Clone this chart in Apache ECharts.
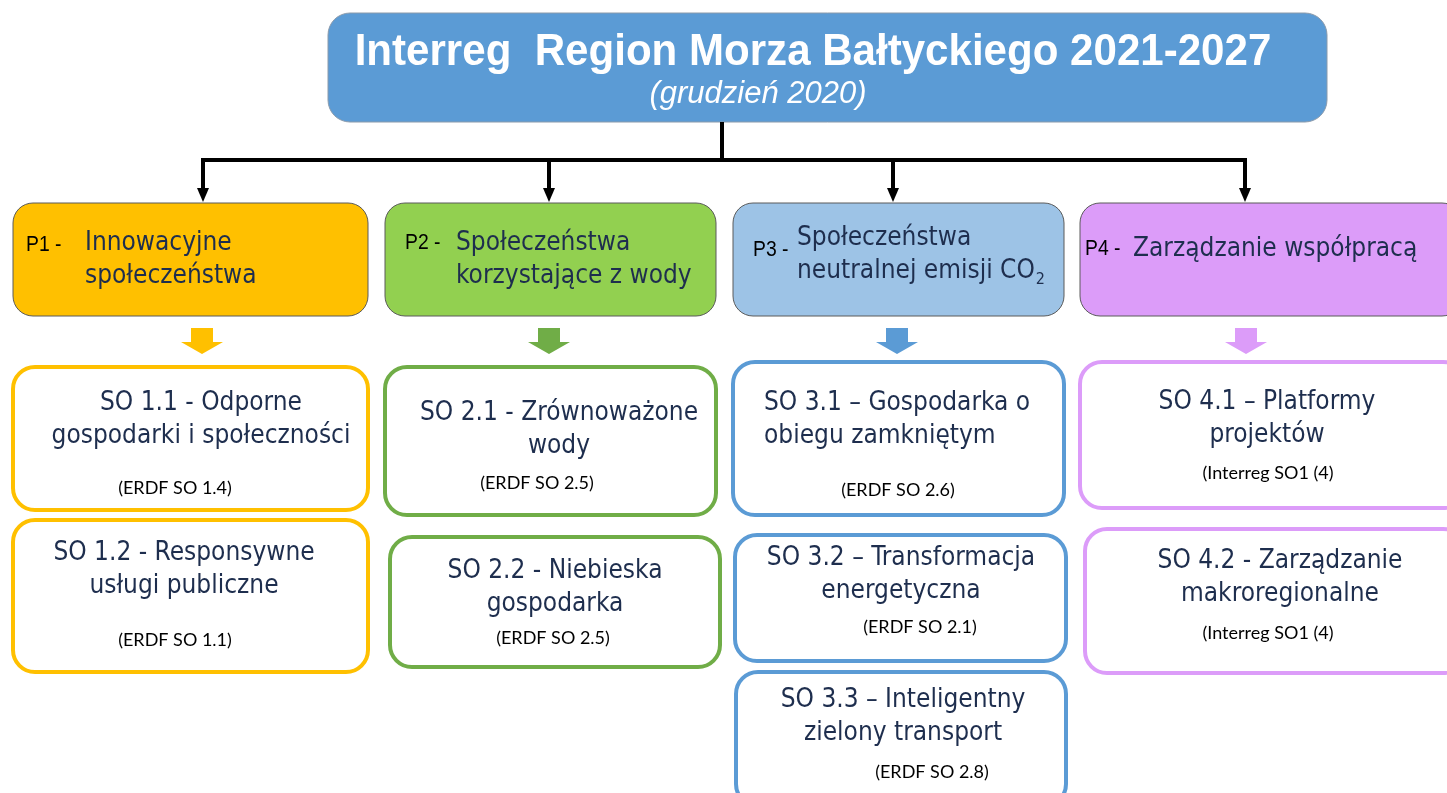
<!DOCTYPE html>
<html>
<head>
<meta charset="utf-8">
<title>Interreg Region Morza Bałtyckiego 2021-2027</title>
<script src="https://cdn.jsdelivr.net/npm/echarts@6.0.0/dist/echarts.min.js"></script>
<style>
  html, body { margin: 0; padding: 0; background: #fff; }
  #chart { width: 1447px; height: 793px; }
</style>
</head>
<body>
<div id="chart"></div>
<script>
// --- data (texts only) ---
const headerTitle = 'Interreg  Region Morza Bałtyckiego 2021-2027'
const headerSubtitle = '(grudzień 2020)'

const priorityCodes = ['P1 -', 'P2 -', 'P3 -', 'P4 -']
const priorityNames = [
  'Innowacyjne\nspołeczeństwa',
  'Społeczeństwa\nkorzystające z wody',
  'Społeczeństwa\nneutralnej emisji CO{sub|2}',
  'Zarządzanie współpracą',
]

const objectiveNames = [
  'SO 1.1 - Odporne\ngospodarki i społeczności',
  'SO 1.2 - Responsywne\nusługi publiczne',
  'SO 2.1 - Zrównoważone\nwody',
  'SO 2.2 - Niebieska\ngospodarka',
  'SO 3.1 – Gospodarka o\nobiegu zamkniętym',
  'SO 3.2 – Transformacja\nenergetyczna',
  'SO 3.3 – Inteligentny\nzielony transport',
  'SO 4.1 – Platformy\nprojektów',
  'SO 4.2 - Zarządzanie\nmakroregionalne',
]
const objectiveRefs = [
  '(ERDF SO 1.4)', '(ERDF SO 1.1)',
  '(ERDF SO 2.5)', '(ERDF SO 2.5)',
  '(ERDF SO 2.6)', '(ERDF SO 2.1)', '(ERDF SO 2.8)',
  '(Interreg SO1 (4)', '(Interreg SO1 (4)',
]
const objectivePriority = [0, 0, 1, 1, 2, 2, 2, 3, 3]

// --- styles / layout (diagram units = axis units) ---
const fillColors = ['#ffc000', '#92d050', '#9dc3e6', '#dc9cf9']
const accentColors = ['#ffc000', '#70ad47', '#5b9bd5', '#dc9cf9']
const textColor = '#1e2e4e'
const bodyFont = '"DejaVu Sans Condensed", "DejaVu Sans", sans-serif'
const narrowFont = '"Liberation Sans Narrow", "Liberation Sans", sans-serif'
const smallFont = 'Lato, "Open Sans", sans-serif'

const headerBox = [328, 13, 1327, 122]
const branchX = [203, 549, 893, 1245]
const branchY = [122, 160, 202]
const priorityCols = [[13, 368], [385, 716], [733, 1064], [1080, 1462]]
const priorityRows = [203, 316]
const priorityCodePos = [[26, 245], [405, 243], [753, 250], [1085, 249]]
const priorityNamePos = [[85, 243], [456, 243], [797, 238], [1133, 249]]
const blockArrowX = [202, 549, 897, 1246]
const objectiveLayout = [
  { box: [13, 367, 368, 510], t: [201, 403], align: 'center', r: [175, 488] },
  { box: [13, 520, 368, 672], t: [184, 553], align: 'center', r: [175, 640] },
  { box: [385, 367, 716, 515], t: [559, 413], align: 'center', r: [537, 483] },
  { box: [390, 537, 720, 667], t: [555, 571], align: 'center', r: [553, 638] },
  { box: [733, 362, 1064, 515], t: [764, 403], align: 'left', r: [898, 490] },
  { box: [735, 535, 1066, 661], t: [901, 558], align: 'center', r: [920, 627] },
  { box: [736, 672, 1066, 806], t: [903, 700], align: 'center', r: [932, 772] },
  { box: [1080, 362, 1465, 508], t: [1267, 402], align: 'center', r: [1268, 473] },
  { box: [1085, 529, 1465, 673], t: [1280, 561], align: 'center', r: [1268, 633] },
]
const lineGap = 33

const chart = echarts.init(document.getElementById('chart'))

function rectFrom(api, b) {
  const p0 = api.coord([b[0], b[1]])
  const p1 = api.coord([b[2], b[3]])
  return { x: p0[0], y: p0[1], width: p1[0] - p0[0], height: p1[1] - p0[1] }
}

function textAt(api, pos, text, style, extra) {
  const p = api.coord(pos)
  return Object.assign({
    type: 'text',
    x: p[0],
    y: p[1] - lineGap / 2,
    style: Object.assign({ text, verticalAlign: 'top', lineHeight: lineGap, fill: textColor }, style),
  }, extra || {})
}

chart.setOption({
  animation: false,
  grid: { left: 0, right: 0, top: 0, bottom: 0 },
  xAxis: { type: 'value', min: 0, max: 1447, show: false },
  yAxis: { type: 'value', min: 0, max: 793, inverse: true, show: false },
  series: [
    {
      // header box
      type: 'custom',
      clip: false,
      data: [[0]],
      renderItem: (params, api) => ({
        type: 'group',
        children: [
          {
            type: 'rect',
            shape: Object.assign(rectFrom(api, headerBox), { r: 22 }),
            style: { fill: '#5b9bd5', stroke: '#8a9aab', lineWidth: 1 },
          },
          textAt(api, [813, 53], headerTitle, {
            fill: '#fff', fontFamily: narrowFont, fontWeight: 'bold', fontSize: 45, align: 'center', lineHeight: 33,
          }, { scaleX: 0.935 }),
          textAt(api, [758, 94], headerSubtitle, {
            fill: '#fff', fontFamily: narrowFont, fontStyle: 'italic', fontSize: 31, align: 'center', lineHeight: 33,
          }),
        ],
      }),
    },
    {
      // connectors from header to priorities
      type: 'custom',
      clip: false,
      data: branchX.map((x, i) => [i]),
      renderItem: (params, api) => {
        const i = params.dataIndex
        const x = branchX[i]
        const top = api.coord([x, branchY[1]])
        const tip = api.coord([x, branchY[2]])
        const children = [
          { type: 'line', shape: { x1: top[0], y1: top[1] - 2, x2: tip[0], y2: tip[1] - 12 }, style: { stroke: '#000', lineWidth: 4 } },
          { type: 'polygon', shape: { points: [[tip[0] - 6, tip[1] - 14], [tip[0] + 6, tip[1] - 14], [tip[0], tip[1]]] }, style: { fill: '#000' } },
        ]
        if (i === 0) {
          const a = api.coord([branchX[0] - 2, branchY[1]])
          const b = api.coord([branchX[branchX.length - 1] + 2, branchY[1]])
          const c = api.coord([722, branchY[0]])
          children.push({ type: 'line', shape: { x1: a[0], y1: a[1], x2: b[0], y2: b[1] }, style: { stroke: '#000', lineWidth: 4 } })
          children.push({ type: 'line', shape: { x1: c[0], y1: c[1], x2: c[0], y2: a[1] }, style: { stroke: '#000', lineWidth: 4 } })
        }
        return { type: 'group', children }
      },
    },
    {
      // priority boxes
      type: 'custom',
      clip: false,
      data: priorityCodes.map((c, i) => [i]),
      renderItem: (params, api) => {
        const i = params.dataIndex
        const col = priorityCols[i]
        return {
          type: 'group',
          children: [
            {
              type: 'rect',
              shape: Object.assign(rectFrom(api, [col[0], priorityRows[0], col[1], priorityRows[1]]), { r: 20 }),
              style: { fill: fillColors[i], stroke: '#5a5a5a', lineWidth: 1 },
            },
            textAt(api, priorityCodePos[i], priorityCodes[i], {
              fill: '#000', fontFamily: narrowFont, fontSize: 22, align: 'left',
            }, { scaleX: 0.88 }),
            textAt(api, priorityNamePos[i], priorityNames[i], {
              fontFamily: bodyFont, fontSize: 26, align: 'left',
              rich: {
                sub: { fontFamily: bodyFont, fontSize: 16, fill: textColor, verticalAlign: 'bottom', padding: [14, 0, 0, 1], lineHeight: lineGap },
              },
            }),
          ],
        }
      },
    },
    {
      // small block arrows
      type: 'custom',
      clip: false,
      data: blockArrowX.map((x, i) => [i]),
      renderItem: (params, api) => {
        const i = params.dataIndex
        const x = blockArrowX[i]
        const pts = [[x - 11, 328], [x + 11, 328], [x + 11, 342], [x + 21, 342], [x, 354], [x - 21, 342], [x - 11, 342]]
        return {
          type: 'polygon',
          shape: { points: pts.map((p) => api.coord(p)) },
          style: { fill: accentColors[i] },
        }
      },
    },
    {
      // specific objective boxes
      type: 'custom',
      clip: false,
      data: objectiveNames.map((n, i) => [i]),
      renderItem: (params, api) => {
        const i = params.dataIndex
        const lay = objectiveLayout[i]
        const color = accentColors[objectivePriority[i]]
        return {
          type: 'group',
          children: [
            {
              type: 'rect',
              shape: Object.assign(rectFrom(api, lay.box), { r: 22 }),
              style: { fill: '#fff', stroke: color, lineWidth: 4 },
            },
            textAt(api, lay.t, objectiveNames[i], {
              fontFamily: bodyFont, fontSize: 26, align: lay.align,
            }),
            textAt(api, lay.r, objectiveRefs[i], {
              fill: '#000', fontFamily: smallFont, fontSize: 18, align: 'center',
            }),
          ],
        }
      },
    },
  ],
})
</script>
</body>
</html>
